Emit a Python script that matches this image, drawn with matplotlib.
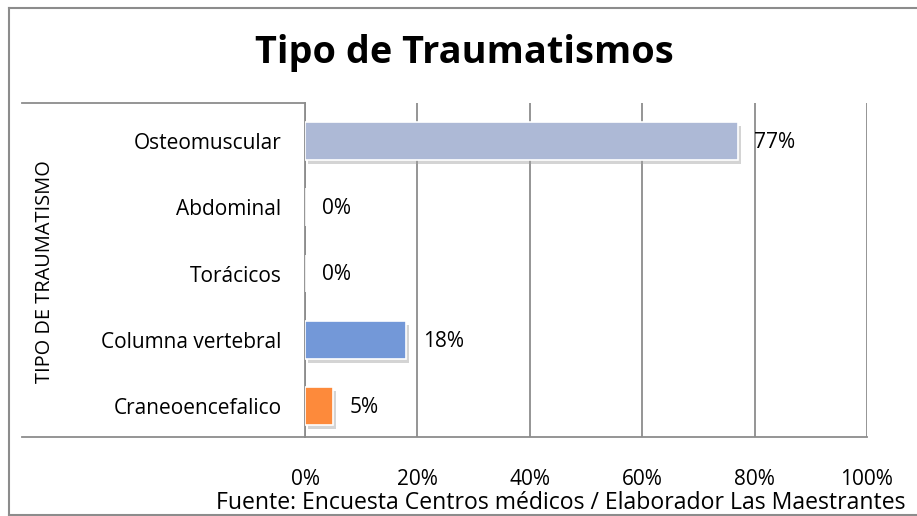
import matplotlib
matplotlib.use("Agg")
import matplotlib.pyplot as plt
from matplotlib.lines import Line2D
import matplotlib.patheffects as pe

categories = ["Osteomuscular", "Abdominal", "Torácicos", "Columna vertebral", "Craneoencefalico"]
values = [77, 0, 0, 18, 5]
colors = ["#adb9d6", "#adb9d6", "#adb9d6", "#7398d8", "#fd8a3b"]
xticks = [0, 20, 40, 60, 80, 100]
xtick_labels = ["0%", "20%", "40%", "60%", "80%", "100%"]

plt.rcParams['font.family'] = ['Open Sans', 'DejaVu Sans']

W, H = 917, 516
fig = plt.figure(figsize=(W/100, H/100), dpi=100)

def fx(x): return x / W
def fy(y): return 1 - y / H

left, right, top, bottom = 305, 867, 103, 437
ax = fig.add_axes([fx(left), fy(bottom), fx(right) - fx(left), (bottom - top) / H])

FS = 15
ypos = list(range(len(categories)))[::-1]
bars = ax.barh(ypos, values, height=0.57, color=colors, edgecolor="white", linewidth=1.2, zorder=3)
for b in bars:
    b.set_path_effects([pe.SimplePatchShadow(offset=(2, -3), shadow_rgbFace="#a0a0a0", alpha=0.45), pe.Normal()])

for yp, v in zip(ypos, values):
    ax.annotate(f"{v}%", xy=(v, yp), xytext=(12, -1), textcoords="offset points",
                ha="left", va="center", fontsize=FS, color="black", zorder=5)

ax.set_xlim(0, 100)
ax.set_ylim(-0.468, 4.574)
ax.set_xticks(xticks)
ax.set_xticklabels(xtick_labels, fontsize=FS)
ax.set_yticks(ypos)
ax.set_yticklabels(categories, fontsize=FS)
ax.tick_params(axis="x", length=0, pad=23)
ax.tick_params(axis="y", length=0, pad=17)
ax.grid(axis="x", color="#8c8c8c", linewidth=1.3, zorder=0)
ax.set_axisbelow(True)
for s in ["top", "right"]:
    ax.spines[s].set_visible(False)
ax.spines["left"].set_color("#8c8c8c")
ax.spines["left"].set_linewidth(1.3)
ax.spines["bottom"].set_color("#8c8c8c")
ax.spines["bottom"].set_linewidth(1.3)

# frame lines in the label area
fig.add_artist(Line2D([fx(22), fx(left)], [fy(top), fy(top)], color="#8c8c8c", lw=1.3))
fig.add_artist(Line2D([fx(22), fx(left)], [fy(bottom), fy(bottom)], color="#8c8c8c", lw=1.3))
# outer border
fig.add_artist(Line2D([fx(9), fx(9)], [fy(8), fy(515)], color="#8c8c8c", lw=1.5))
fig.add_artist(Line2D([fx(9), 1], [fy(8), fy(8)], color="#8c8c8c", lw=1.5))
fig.add_artist(Line2D([fx(9), 1], [fy(515), fy(515)], color="#8c8c8c", lw=1.5))

fig.text(fx(464), fy(53), "Tipo de Traumatismos", ha="center", va="center",
         fontsize=27.3, fontweight="bold")
fig.text(fx(45), fy(272), "TIPO DE TRAUMATISMO", rotation=90, ha="center", va="center", fontsize=14.4)
fig.text(fx(905), fy(503), "Fuente: Encuesta Centros médicos / Elaborador Las Maestrantes",
         ha="right", va="center", fontsize=16.6)

fig.savefig("out.png", dpi=100)
